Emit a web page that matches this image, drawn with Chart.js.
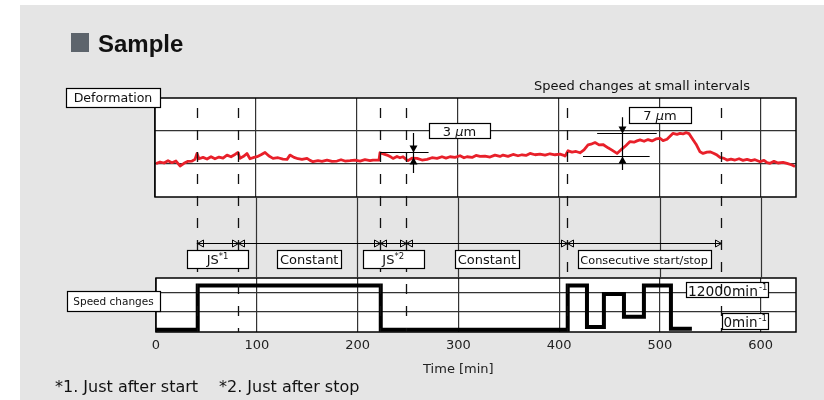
<!DOCTYPE html>
<html>
<head>
<meta charset="utf-8">
<script src="https://cdn.jsdelivr.net/npm/chart.js@4.4.0/dist/chart.umd.min.js"></script>
<style>
html, body { margin: 0; padding: 0; background: #fff; }
#wrap { position: relative; width: 824px; height: 400px; overflow: hidden; }
#bg { position: absolute; left: 20px; top: 5px; right: 0; bottom: 0; background: #e5e5e5; }
canvas { position: absolute; left: 0; top: 0; }
</style>
</head>
<body>
<div id="wrap">
	<div id="bg"></div>
	<canvas id="speed-chart" width="824" height="400"></canvas>
	<canvas id="def-chart" width="824" height="400"></canvas>
</div>
<script>
// Deformazione [um]
const defTime = [1, 5, 8.9, 12.9, 16.8, 20.8, 24.8, 28.7, 32.7, 36.7, 39.6, 41.6, 43.6, 47.6, 51.5, 55.5, 59.4, 63.4, 67.4, 71.3,
	75.3, 79.3, 82.2, 84.2, 88.2, 91.1, 94.1, 98.1, 101.1, 105, 109, 112.9, 116.9, 121.9, 126.8, 130.8, 133.7, 137.7, 141.7, 145.6,
	150.6, 153.6, 156.5, 161.5, 165.4, 170.4, 175.4, 180.3, 184.3, 188.2, 193.2, 198.1, 203.1, 208, 213, 216, 221.9, 222.9, 226.9, 229.8,
	233.8, 235.8, 239.7, 242.7, 245.7, 248.7, 250.6, 254.6, 259.6, 264.5, 269.5, 274.4, 279.4, 284.3, 288.3, 292.3, 297.2, 302.2, 306.1, 309.1,
	314.1, 318, 322, 326.9, 331.9, 336.8, 341.8, 344.8, 349.7, 354.7, 359.6, 363.6, 367.5, 371.5, 376.5, 381.4, 386.4, 391.3, 396.3, 401.2,
	404.2, 406.2, 409.2, 413.1, 417.1, 421, 425, 429, 431.9, 435.9, 439.9, 443.8, 448.8, 452.7, 457.7, 462.7, 466.6, 470.6, 474.5, 477.5,
	480.5, 484.5, 488.4, 492.4, 496.3, 500.3, 503.3, 507.2, 510.2, 513.2, 517.1, 520.1, 523.1, 526.1, 529, 532, 536, 539.9, 542.9, 546.9,
	549.8, 553.8, 556.8, 559.7, 563.7, 566.7, 570.6, 574.6, 578.6, 582.5, 586.5, 590.5, 594.4, 599.4, 603.3, 606.3, 609.3, 613.2, 617.2, 622.2,
	626.1, 631.1, 634];
const defValue = [0.1, 0.6, 0.3, 1.0, 0.4, 0.9, -0.6, 0.2, 0.8, 0.9, 1.4, 3.2, 1.6, 2.0, 1.5, 2.2, 1.6, 2.1, 1.8, 2.7,
	2.2, 2.9, 3.5, 1.7, 2.4, 3.2, 1.6, 2.0, 2.2, 2.8, 3.5, 2.4, 1.7, 1.9, 1.5, 1.4, 2.7, 2.0, 1.6, 1.4,
	1.7, 1.1, 0.7, 1.0, 0.8, 1.2, 0.8, 0.9, 1.3, 0.9, 1.0, 1.2, 0.9, 1.3, 1.0, 1.2, 1.2, 3.4, 3.0, 2.7,
	2.1, 1.7, 2.3, 1.9, 2.2, 1.4, 1.0, 1.8, 1.7, 1.2, 1.4, 1.9, 1.7, 2.2, 1.8, 2.2, 2.0, 2.5, 1.9, 2.2,
	2.0, 2.6, 2.3, 2.4, 2.1, 2.7, 2.3, 2.7, 2.3, 2.9, 2.5, 2.8, 2.6, 3.2, 2.8, 3.0, 2.7, 3.1, 2.8, 3.0,
	2.7, 2.4, 4.0, 3.6, 3.8, 3.4, 4.3, 5.8, 6.0, 6.5, 5.8, 5.9, 4.9, 4.2, 3.2, 4.6, 5.6, 6.8, 6.6, 7.0,
	7.3, 6.9, 7.4, 7.0, 7.6, 7.8, 7.1, 7.5, 8.4, 9.3, 9.0, 9.3, 9.1, 9.5, 9.2, 7.8, 6.0, 3.7, 3.2, 3.6,
	3.7, 3.2, 2.7, 2.0, 1.7, 1.2, 1.5, 1.2, 1.6, 1.1, 1.4, 1.0, 1.3, 0.7, 1.1, 0.4, 0.2, 0.8, 0.3, 0.5,
	0.2, -0.3, -0.8];

// Velocita' mandrino [min-1]
const speedTime = [0, 41.4, 223, 408.5, 427.6, 444.4, 464.3, 484.1, 510.9, 531.7];
const speedValue = [0, 12000, 0, 12000, 750, 9700, 3500, 12000, 300, 300];

// Fasi della prova
const phaseTime = [41.4, 82.6, 223, 249, 408.5, 560.5];
const phaseLabel = ['JS', 'Constant', 'JS', 'Constant', 'Consecutive start/stop'];
const phaseNote = ['*1', '', '*2', '', ''];

const timeTicks = [0, 100, 200, 300, 400, 500, 600];
const defGrid = [0, 10];
const speedGrid = [5000, 10000];

const FONT = "'DejaVu Sans'";
const GRID = '#333';

function font(size, style) { return (style || '') + ' ' + size + 'px ' + FONT; }

function box(ctx, x, y, w, h) {
	ctx.save();
	ctx.fillStyle = '#fff';
	ctx.fillRect(x, y, w, h);
	ctx.strokeStyle = '#000';
	ctx.lineWidth = 1.2;
	ctx.strokeRect(x + 0.5, y + 0.5, w, h);
	ctx.restore();
}

// testo con pezzi di font diversi, centrato su cx
function pieces(ctx, parts, cx, y) {
	let w = 0;
	parts.forEach(p => { ctx.font = p.f; w += ctx.measureText(p.t).width; });
	let x = cx - w / 2;
	ctx.textAlign = 'left';
	parts.forEach(p => {
		ctx.font = p.f;
		ctx.fillText(p.t, x, y + (p.dy || 0));
		x += ctx.measureText(p.t).width;
	});
	return w;
}

function tri(ctx, x, y, dir, filled) {
	ctx.beginPath();
	if (dir === 'left') { ctx.moveTo(x, y); ctx.lineTo(x + 6, y - 3.5); ctx.lineTo(x + 6, y + 3.5); }
	if (dir === 'right') { ctx.moveTo(x, y); ctx.lineTo(x - 6, y - 3.5); ctx.lineTo(x - 6, y + 3.5); }
	if (dir === 'down') { ctx.moveTo(x, y); ctx.lineTo(x - 4, y - 7); ctx.lineTo(x + 4, y - 7); }
	if (dir === 'up') { ctx.moveTo(x, y); ctx.lineTo(x - 4, y + 7); ctx.lineTo(x + 4, y + 7); }
	ctx.closePath();
	if (filled) { ctx.fill(); } else { ctx.stroke(); }
}

const whiteArea = {
	id: 'whiteArea',
	beforeDraw(chart) {
		const a = chart.chartArea, ctx = chart.ctx;
		ctx.save();
		ctx.fillStyle = '#fff';
		ctx.fillRect(a.left, a.top, a.right - a.left, a.bottom - a.top);
		ctx.restore();
	}
};

const speedDecor = {
	id: 'speedDecor',
	afterDraw(chart) {
		const a = chart.chartArea, ctx = chart.ctx;
		ctx.save();
		ctx.strokeStyle = '#000';
		ctx.lineWidth = 1.5;
		ctx.strokeRect(a.left, a.top, a.right - a.left, a.bottom - a.top);

		ctx.fillStyle = '#111';
		ctx.textBaseline = 'alphabetic';
		box(ctx, 67, 291, 93, 20);
		ctx.font = font(10.5);
		ctx.textAlign = 'center';
		ctx.fillText('Speed changes', 113.5, 305);

		box(ctx, 686, 282, 82, 15);
		ctx.textAlign = 'left';
		ctx.font = font(13.8);
		ctx.fillText('12000min', 688, 295.5);
		let w = ctx.measureText('12000min').width;
		ctx.font = font(8.5);
		ctx.fillText('-1', 688 + w + 1, 290);

		box(ctx, 722, 313, 46, 16);
		ctx.font = font(13.5);
		ctx.fillText('0min', 723.5, 326.5);
		w = ctx.measureText('0min').width;
		ctx.font = font(8.5);
		ctx.fillText('-1', 723.5 + w + 1, 321);

		// titolo asse
		ctx.fillStyle = '#222';
		ctx.font = font(13);
		ctx.textAlign = 'center';
		ctx.fillText('Time [min]', chart.scales.x.getPixelForValue(300), 373);
		ctx.restore();
	}
};

const speedChart = new Chart(document.getElementById('speed-chart'), {
	type: 'line',
	data: {
		datasets: [{
			label: 'Speed',
			data: speedTime.map((t, i) => ({ x: t, y: speedValue[i] })),
			borderColor: '#000',
			borderWidth: 4,
			stepped: true,
			pointRadius: 0,
			borderJoinStyle: 'miter',
			borderCapStyle: 'butt'
		}]
	},
	options: {
		responsive: false,
		animation: false,
		devicePixelRatio: 1,
		layout: { padding: { left: 156, right: 28, top: 278, bottom: 38 } },
		plugins: { legend: { display: false }, tooltip: { enabled: false } },
		scales: {
			x: {
				type: 'linear', min: 0, max: 635,
				ticks: { color: '#222', font: { family: FONT, size: 13 }, padding: 6, maxRotation: 0, autoSkip: false },
				grid: { color: GRID, lineWidth: 1.2, drawTicks: false },
				border: { display: false },
				afterBuildTicks: s => { s.ticks = timeTicks.map(v => ({ value: v })); },
				afterFit: s => { s.height = 30; }
			},
			y: {
				min: -600, max: 14000,
				ticks: { display: false },
				grid: { color: GRID, lineWidth: 1.2, drawTicks: false },
				border: { display: false },
				afterBuildTicks: s => { s.ticks = speedGrid.map(v => ({ value: v })); },
				afterFit: s => { s.width = 0; }
			}
		}
	},
	plugins: [whiteArea, speedDecor]
});

const defDecor = {
	id: 'defDecor',
	afterDraw(chart) {
		const a = chart.chartArea, ctx = chart.ctx;
		const x = chart.scales.x, y = chart.scales.y;
		const sa = speedChart.chartArea;
		ctx.save();

		// bordo
		ctx.strokeStyle = '#000';
		ctx.lineWidth = 1.5;
		ctx.strokeRect(a.left, a.top, a.right - a.left, a.bottom - a.top);

		// griglia verticale tra i due grafici
		ctx.strokeStyle = GRID;
		ctx.lineWidth = 1.2;
		timeTicks.slice(1).forEach(t => {
			const px = Math.round(x.getPixelForValue(t)) + 0.5;
			ctx.beginPath(); ctx.moveTo(px, a.bottom); ctx.lineTo(px, sa.top); ctx.stroke();
		});

		// linee tratteggiate delle fasi
		ctx.strokeStyle = '#111';
		ctx.lineWidth = 1.3;
		ctx.setLineDash([10, 12]);
		phaseTime.forEach(t => {
			const px = Math.round(x.getPixelForValue(t)) + 0.5;
			ctx.beginPath(); ctx.moveTo(px, a.top + 10); ctx.lineTo(px, sa.bottom); ctx.stroke();
		});
		ctx.setLineDash([]);

		// quote delle fasi
		const dimY = 243.5;
		const px0 = x.getPixelForValue(phaseTime[0]);
		const pxN = x.getPixelForValue(phaseTime[phaseTime.length - 1]);
		ctx.strokeStyle = '#000';
		ctx.lineWidth = 1;
		ctx.beginPath(); ctx.moveTo(px0, dimY); ctx.lineTo(pxN, dimY); ctx.stroke();
		phaseTime.forEach((t, i) => {
			const px = Math.round(x.getPixelForValue(t)) + 0.5;
			if (i > 0) tri(ctx, px, dimY, 'right', false);
			if (i < phaseTime.length - 1) tri(ctx, px, dimY, 'left', false);
		});

		ctx.fillStyle = '#111';
		ctx.textBaseline = 'alphabetic';
		phaseLabel.forEach((lab, i) => {
			const cx = (x.getPixelForValue(phaseTime[i]) + x.getPixelForValue(phaseTime[i + 1])) / 2;
			const sz = lab.length > 12 ? 11.3 : 13;
			const parts = [{ t: lab, f: font(sz) }];
			if (phaseNote[i]) parts.push({ t: phaseNote[i], f: font(8.5), dy: -5 });
			let w = 0;
			parts.forEach(p => { ctx.font = p.f; w += ctx.measureText(p.t).width; });
			const bw = Math.max(61, Math.round(w + 6));
			box(ctx, Math.round(cx - bw / 2), 250, bw, 18);
			ctx.fillStyle = '#111';
			pieces(ctx, parts, cx, 264);
		});

		// 3 um
		ctx.strokeStyle = '#000';
		ctx.fillStyle = '#000';
		ctx.lineWidth = 1.2;
		const y3 = Math.round(y.getPixelForValue(3.7)) + 0.5;
		const y0 = Math.round(y.getPixelForValue(0)) + 0.5;
		const xa = Math.round(x.getPixelForValue(255.5)) + 0.5;
		ctx.beginPath();
		ctx.moveTo(x.getPixelForValue(223), y3); ctx.lineTo(x.getPixelForValue(271), y3);
		ctx.moveTo(xa, y.getPixelForValue(9.4)); ctx.lineTo(xa, y.getPixelForValue(-2.7));
		ctx.stroke();
		tri(ctx, xa, y3, 'down', true);
		tri(ctx, xa, y0 - 7, 'up', true);
		box(ctx, 429, 123, 61, 15);
		ctx.fillStyle = '#111';
		pieces(ctx, [{ t: '3 ', f: font(13) }, { t: 'μ', f: font(13, 'italic') }, { t: 'm', f: font(13) }], 459.5, 135.5);

		// 7 um
		ctx.fillStyle = '#000';
		const yHi = Math.round(y.getPixelForValue(9.5)) + 0.5;
		const yLo = Math.round(y.getPixelForValue(2.4)) + 0.5;
		const xb = Math.round(x.getPixelForValue(462.7)) + 0.5;
		ctx.beginPath();
		ctx.moveTo(x.getPixelForValue(438), yHi); ctx.lineTo(x.getPixelForValue(497), yHi);
		ctx.moveTo(x.getPixelForValue(424), yLo); ctx.lineTo(x.getPixelForValue(490), yLo);
		ctx.moveTo(xb, y.getPixelForValue(14.2)); ctx.lineTo(xb, y.getPixelForValue(-1.8));
		ctx.stroke();
		tri(ctx, xb, yHi, 'down', true);
		tri(ctx, xb, yLo, 'up', true);
		box(ctx, 629, 107, 62, 16);
		ctx.fillStyle = '#111';
		pieces(ctx, [{ t: '7 ', f: font(13) }, { t: 'μ', f: font(13, 'italic') }, { t: 'm', f: font(13) }], 660, 120);

		// etichette
		box(ctx, 66, 88, 94, 19);
		ctx.fillStyle = '#111';
		ctx.textAlign = 'center';
		ctx.font = font(12.6);
		ctx.fillText('Deformation', 113, 102);
		ctx.font = font(13);
		ctx.fillText('Speed changes at small intervals', 642, 90);

		// titolo
		ctx.fillStyle = '#5d646c';
		ctx.fillRect(71, 33, 18, 19);
		ctx.fillStyle = '#111';
		ctx.textAlign = 'left';
		ctx.font = "bold 24px 'Liberation Sans'";
		ctx.fillText('Sample', 98, 52);

		// note
		ctx.font = font(16);
		ctx.fillText('*1. Just after start', 55, 392);
		ctx.fillText('*2. Just after stop', 219, 392);
		ctx.restore();
	}
};

const defChart = new Chart(document.getElementById('def-chart'), {
	type: 'line',
	data: {
		datasets: [{
			label: 'Deformation',
			data: defTime.map((t, i) => ({ x: t, y: defValue[i] })),
			borderColor: '#e8202a',
			borderWidth: 2.8,
			pointRadius: 0,
			tension: 0,
			borderJoinStyle: 'round'
		}]
	},
	options: {
		responsive: false,
		animation: false,
		devicePixelRatio: 1,
		layout: { padding: { left: 155, right: 28, top: 98, bottom: 203 } },
		plugins: { legend: { display: false }, tooltip: { enabled: false } },
		scales: {
			x: {
				type: 'linear', min: 0, max: 635,
				ticks: { display: false },
				grid: { color: GRID, lineWidth: 1.2, drawTicks: false },
				border: { display: false },
				afterBuildTicks: s => { s.ticks = timeTicks.map(v => ({ value: v })); },
				afterFit: s => { s.height = 0; }
			},
			y: {
				min: -10, max: 20,
				ticks: { display: false },
				grid: { color: GRID, lineWidth: 1.2, drawTicks: false },
				border: { display: false },
				afterBuildTicks: s => { s.ticks = defGrid.map(v => ({ value: v })); },
				afterFit: s => { s.width = 0; }
			}
		}
	},
	plugins: [whiteArea, defDecor]
});
</script>
</body>
</html>
